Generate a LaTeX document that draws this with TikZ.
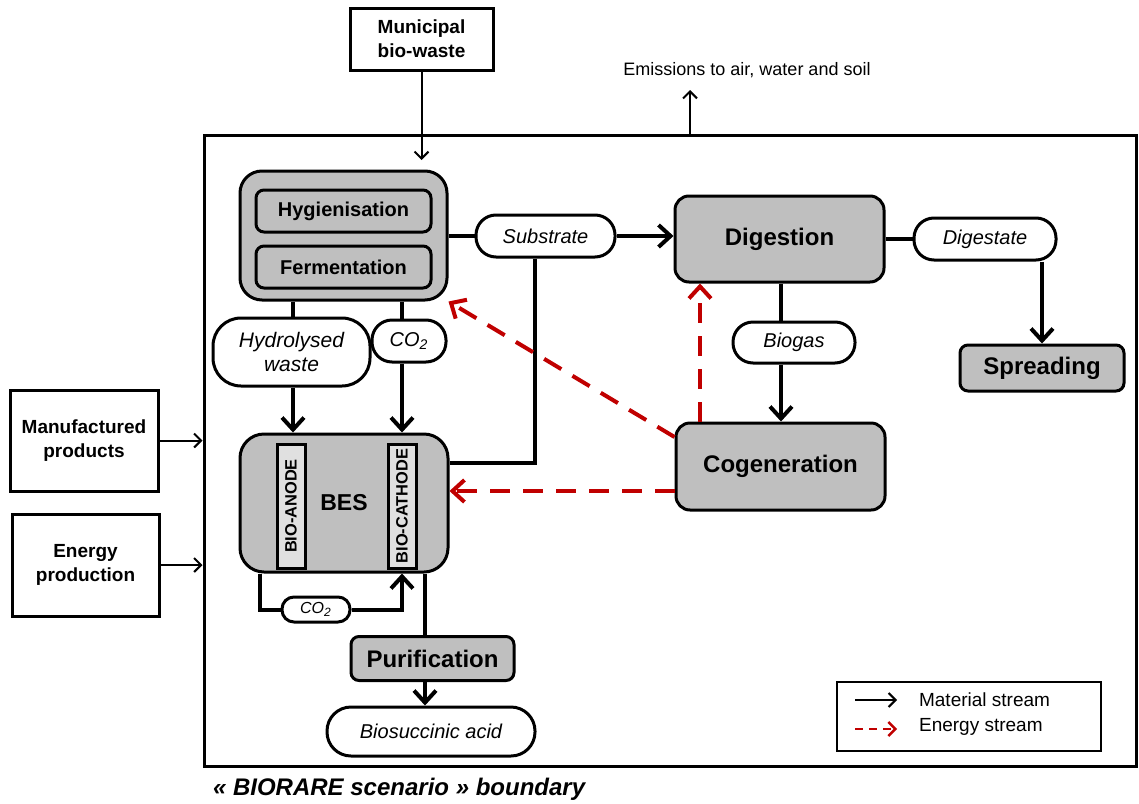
\documentclass[tikz,border=0pt]{standalone}
\usepackage{fontspec}
\setmainfont{Liberation Sans}
\usetikzlibrary{arrows.meta}
\definecolor{energyred}{RGB}{192,0,0}
\definecolor{procgray}{RGB}{191,191,191}

\begin{document}
\begin{tikzpicture}[x=0.5pt,y=-0.5pt,
  proc/.style={draw, line width=1.5pt, fill=procgray, rounded corners=7pt, inner sep=0pt, font=\bfseries\fontsize{12}{14}\selectfont},
  subproc/.style={proc, rounded corners=4pt, font=\bfseries\fontsize{10}{12}\selectfont},
  pill/.style={draw, line width=1.5pt, fill=white, rounded corners=10pt, inner sep=0pt, align=center, font=\itshape\fontsize{10}{12}\selectfont},
  source/.style={draw, line width=1.5pt, inner sep=0pt, align=center, font=\bfseries\fontsize{9.5}{12}\selectfont},
  electrode/.style={draw, line width=1.5pt, fill=black!12, rotate=90, inner sep=0pt, minimum width=62pt, minimum height=14pt, font=\bfseries\fontsize{8.2}{9}\selectfont},
  flow/.style={line width=2pt},
  mat/.style={flow, -{Straight Barb[length=6pt,width=11pt]}},
  inflow/.style={line width=1pt, -{Straight Barb[length=3.5pt,width=7pt]}},
  energy/.style={line width=2pt, energyred, dash pattern=on 10pt off 6.5pt, -{Straight Barb[length=6pt,width=11pt]}},
]
\useasboundingbox (0,0) rectangle (1139,803);

% system boundary and what crosses it
\node[draw, line width=1.5pt, minimum width=466pt, minimum height=315.5pt] (bnd) at (670,450.5) {};
\node[anchor=west, font=\bfseries\itshape\fontsize{12}{14}\selectfont] (bndlbl) at (206,789) {« BIORARE scenario » boundary};
\node[source, minimum width=71.5pt, minimum height=31pt] (mun) at (421.5,39) {Municipal\\bio-waste};
\node[source, minimum width=74pt, minimum height=50.5pt] (manu) at (84,440.5) {Manufactured\\products};
\node[source, minimum width=73.5pt, minimum height=51pt] (ener) at (85.5,565) {Energy\\production};
\node[font=\fontsize{9}{11}\selectfont] (emtxt) at (747,70) {Emissions to air, water and soil};

% pretreatment
\node[proc, rounded corners=11pt, minimum width=103.5pt, minimum height=64.5pt] (hf) at (343.5,235.5) {};
\node[subproc, minimum width=87.5pt, minimum height=21pt] (hyg) at (343.5,211) {Hygienisation};
\node[subproc, minimum width=87.5pt, minimum height=21pt] (fer) at (343.5,267) {Fermentation};

% BES
\node[proc, rounded corners=12pt, minimum width=104pt, minimum height=69pt] (bes) at (344,503) {};
\node[font=\bfseries\fontsize{11.5}{13}\selectfont] (beslbl) at (344,503) {BES};
\node[electrode] (anode) at (291,506) {BIO-ANODE};
\node[electrode] (cath) at (402,506) {BIO-CATHODE};

% digestion line
\node[proc, minimum width=104.5pt, minimum height=43pt] (dig) at (779.5,239) {Digestion};
\node[proc, minimum width=104.5pt, minimum height=43.5pt] (cog) at (780.5,466.5) {Cogeneration};
\node[proc, rounded corners=4pt, minimum width=82pt, minimum height=23pt] (spr) at (1042,368) {Spreading};
\node[proc, rounded corners=4pt, minimum width=81.5pt, minimum height=22pt] (pur) at (432.5,658.5) {Purification};

% streams
\node[pill, minimum width=69.5pt, minimum height=21pt] (sub) at (545.5,236) {Substrate};
\node[pill, minimum width=71pt, minimum height=21pt] (dgs) at (985,239) {Digestate};
\node[pill, minimum width=61pt, minimum height=20.5pt] (bgs) at (794,342.5) {Biogas};
\node[pill, rounded corners=14pt, minimum width=78.5pt, minimum height=34pt, font=\itshape\fontsize{10.5}{12}\selectfont] (hyd) at (291.5,352) {Hydrolysed\\waste};
\node[pill, minimum width=37pt, minimum height=21pt] (co2a) at (409,341) {CO\textsubscript{2}};
\node[pill, rounded corners=6pt, minimum width=34pt, minimum height=12.5pt, font=\itshape\fontsize{8}{9}\selectfont] (co2b) at (316,609.5) {CO\textsubscript{2}};
\node[pill, rounded corners=12pt, minimum width=104pt, minimum height=24.5pt] (bsa) at (431,731.5) {Biosuccinic acid};

% legend
\node[draw, line width=0.8pt, minimum width=132pt, minimum height=34.5pt] (leg) at (969,716.5) {};
\node[anchor=west, font=\fontsize{9.5}{11}\selectfont] (legm) at (912,700) {Material stream};
\node[anchor=west, font=\fontsize{9.5}{11}\selectfont] (lege) at (912,727) {Energy stream};
\coordinate (lm1) at (855,700);
\coordinate (lm2) at (897,700);
\coordinate (le1) at (855,729);
\coordinate (le2) at (897,729);
\draw[inflow] (lm1) -- (lm2);
\draw[energyred, line width=1.2pt, dash pattern=on 4pt off 3pt, -{Straight Barb[length=3.5pt,width=7pt]}] (le1) -- (le2);

% lanes
\coordinate (munin) at (420,160);
\coordinate (emis) at (690,90);
\coordinate (hydx) at (293,0);
\coordinate (co2x) at (402,0);
\coordinate (subdrop) at (535,463);
\coordinate (loopl) at (260,609);
\coordinate (purx) at (425,0);
\coordinate (bgx) at (781,0);
\coordinate (e1) at (676,437);
\coordinate (e2) at (676,491);
\coordinate (e3) at (700,0);

% inputs / outputs of the boundary
\draw[inflow] (mun.south) -- (mun.south |- munin);
\draw[inflow] (bnd.north -| emis) -- (emis);
\draw[inflow] (manu.east) -- (manu.east -| bnd.west);
\draw[inflow] (ener.east) -- (ener.east -| bnd.west);

% material streams
\draw[flow] (hf.east |- sub) -- (sub.west);
\draw[mat] (sub.east) -- (dig.west |- sub);
\draw[flow] (dig.east) -- (dgs.west);
\draw[mat] (dgs.south -| spr) -- (spr.north);
\draw[flow] (dig.south -| bgx) -- (bgs.north -| bgx);
\draw[mat] (bgs.south -| bgx) -- (cog.north -| bgx);
\draw[flow] (hf.south -| hydx) -- (hyd.north -| hydx);
\draw[mat] (hyd.south -| hydx) -- (bes.north -| hydx);
\draw[flow] (hf.south -| co2x) -- (co2a.north -| co2x);
\draw[mat] (co2a.south -| co2x) -- (bes.north -| co2x);
\draw[flow] (sub.south -| subdrop) |- (bes.east |- subdrop);
\draw[flow] (bes.south -| loopl) |- (co2b.west);
\draw[mat] (co2b.east) -| (bes.south -| cath);
\draw[flow] (bes.south -| purx) -- (pur.north -| purx);
\draw[mat] (pur.south -| purx) -- (bsa.north -| purx);

% energy streams
\draw[energy] (cog.west |- e1) -- (hf.south east);
\draw[energy] (cog.west |- e2) -- (bes.east |- e2);
\draw[energy] (cog.north -| e3) -- (dig.south -| e3);
\end{tikzpicture}
\end{document}
